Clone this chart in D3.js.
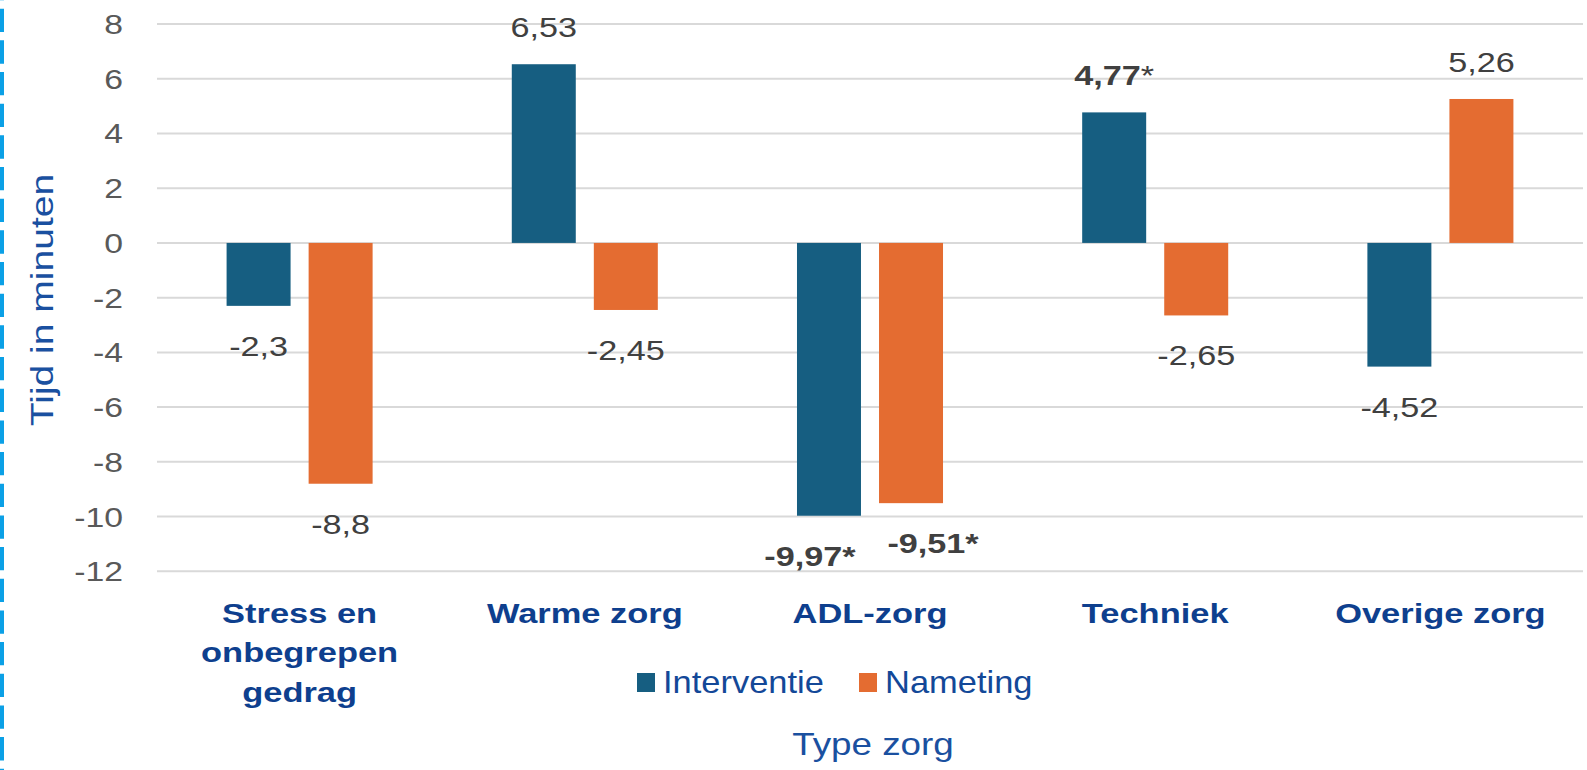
<!DOCTYPE html>
<html>
<head>
<meta charset="utf-8">
<script src="https://cdn.jsdelivr.net/npm/d3@7"></script>
<style>
    body { margin: 0; background: #ffffff; }
    svg { display: block; }
    text { font-family: "Liberation Sans", Arial, sans-serif; }
</style>
</head>
<body>
<div id="chart"></div>
<script>
// data
var categories = ["Stress en onbegrepen gedrag", "Warme zorg", "ADL-zorg", "Techniek", "Overige zorg"];
var categoryLines = [["Stress en", "onbegrepen", "gedrag"], ["Warme zorg"], ["ADL-zorg"], ["Techniek"], ["Overige zorg"]];
var seriesNames = ["Interventie", "Nameting"];
var interventie = [-2.3, 6.53, -9.97, 4.77, -4.52];
var nameting = [-8.8, -2.45, -9.51, -2.65, 5.26];
var interventieSig = [false, false, true, true, false];
var namentingSig = [false, false, true, false, false];
var yTicks = [-12, -10, -8, -6, -4, -2, 0, 2, 4, 6, 8];

var W = 1587, H = 770;
var colors = {"Interventie": "#165e81", "Nameting": "#e46c31"};

var svg = d3.select("#chart").append("svg")
    .attr("width", W)
    .attr("height", H);

// dashed border at the left edge
svg.append("line")
    .attr("x1", 2).attr("x2", 2)
    .attr("y1", 0).attr("y2", H)
    .attr("stroke", "#0ba0e6")
    .attr("stroke-width", 4)
    .attr("stroke-dasharray", "23.3 8.37")
    .attr("stroke-dashoffset", 23);

var y = d3.scaleLinear().domain([-12, 8]).range([571.3, 24]);

var x0 = d3.scaleBand()
    .domain(categories)
    .range([157, 1583])
    .paddingInner(0.488)
    .paddingOuter(0.244);

var x1 = d3.scaleBand()
    .domain(seriesNames)
    .range([0, x0.bandwidth()])
    .paddingInner(0.22)
    .paddingOuter(0);

// the font in the picture runs wider than Arial, so text is stretched along its own x
function at(x, yy, sx) {
    return "translate(" + x + "," + yy + ") scale(" + sx + ",1)";
}

// gridlines
svg.append("g").selectAll("line")
    .data(yTicks)
    .enter()
    .append("line")
    .attr("x1", 157).attr("x2", 1583)
    .attr("y1", function (d) { return y(d); })
    .attr("y2", function (d) { return y(d); })
    .attr("stroke", "#d9d9d9")
    .attr("stroke-width", 2);

// y tick labels
svg.append("g").selectAll("text")
    .data(yTicks)
    .enter()
    .append("text")
    .attr("transform", function (d) { return at(123, y(d) + 10, 1.25); })
    .attr("text-anchor", "end")
    .attr("font-size", 27)
    .attr("fill", "#595959")
    .text(function (d) { return d; });

// bars
var rows = categories.map(function (c, i) {
    return [
        {cat: c, s: "Interventie", v: interventie[i], sig: interventieSig[i]},
        {cat: c, s: "Nameting", v: nameting[i], sig: namentingSig[i]}
    ];
});
var flat = [].concat.apply([], rows);

svg.append("g").selectAll("rect")
    .data(flat)
    .enter()
    .append("rect")
    .attr("x", function (d) { return x0(d.cat) + x1(d.s); })
    .attr("width", x1.bandwidth())
    .attr("y", function (d) { return y(Math.max(0, d.v)); })
    .attr("height", function (d) { return Math.abs(y(d.v) - y(0)); })
    .attr("fill", function (d) { return colors[d.s]; });

// the two ADL labels were pushed apart in the original
var labelShift = {"ADL-zorg|Interventie": -19, "ADL-zorg|Nameting": 22};

var labels = svg.append("g").selectAll("text")
    .data(flat)
    .enter()
    .append("text")
    .attr("transform", function (d) {
        var cx = x0(d.cat) + x1(d.s) + x1.bandwidth() / 2 + (labelShift[d.cat + "|" + d.s] || 0);
        var ty = d.v >= 0 ? y(d.v) - 27 : y(d.v) + 50;
        return at(cx, ty, 1.2);
    })
    .attr("text-anchor", "middle")
    .attr("font-size", 28.5)
    .attr("fill", "#404040");

labels.append("tspan")
    .attr("font-weight", function (d) { return d.sig ? "bold" : "normal"; })
    .text(function (d) { return String(d.v).replace(".", ","); });
labels.filter(function (d) { return d.sig; })
    .append("tspan")
    .attr("font-weight", function (d) { return d.v < 0 ? "bold" : "normal"; })
    .text("*");

// category labels
var catG = svg.append("g").selectAll("text")
    .data(categories)
    .enter()
    .append("text")
    .attr("transform", function (d) { return at(x0(d) + x0.bandwidth() / 2, 623, 1.23); })
    .attr("text-anchor", "middle")
    .attr("font-size", 28)
    .attr("font-weight", "bold")
    .attr("fill", "#0e3f8e");

catG.selectAll("tspan")
    .data(function (d, i) { return categoryLines[i]; })
    .enter()
    .append("tspan")
    .attr("x", 0)
    .attr("dy", function (d, i) { return i === 0 ? 0 : 39.5; })
    .text(function (d) { return d; });

// legend
var legendX = [637, 859];
var legend = svg.append("g").selectAll("g")
    .data(seriesNames)
    .enter()
    .append("g");

legend.append("rect")
    .attr("x", function (d, i) { return legendX[i]; })
    .attr("y", 673)
    .attr("width", 18)
    .attr("height", 19)
    .attr("fill", function (d) { return colors[d]; });

legend.append("text")
    .attr("transform", function (d, i) { return at(legendX[i] + 26, 693, 1.13); })
    .attr("font-size", 30.5)
    .attr("fill", "#134898")
    .text(function (d) { return d; });

// axis titles
svg.append("text")
    .attr("transform", at(873, 755, 1.15))
    .attr("text-anchor", "middle")
    .attr("font-size", 32)
    .attr("fill", "#1a50a0")
    .text("Type zorg");

svg.append("text")
    .attr("transform", "translate(53,300) rotate(-90) scale(1.22,1)")
    .attr("text-anchor", "middle")
    .attr("font-size", 32)
    .attr("fill", "#1a50a0")
    .text("Tijd in minuten");
</script>
</body>
</html>
